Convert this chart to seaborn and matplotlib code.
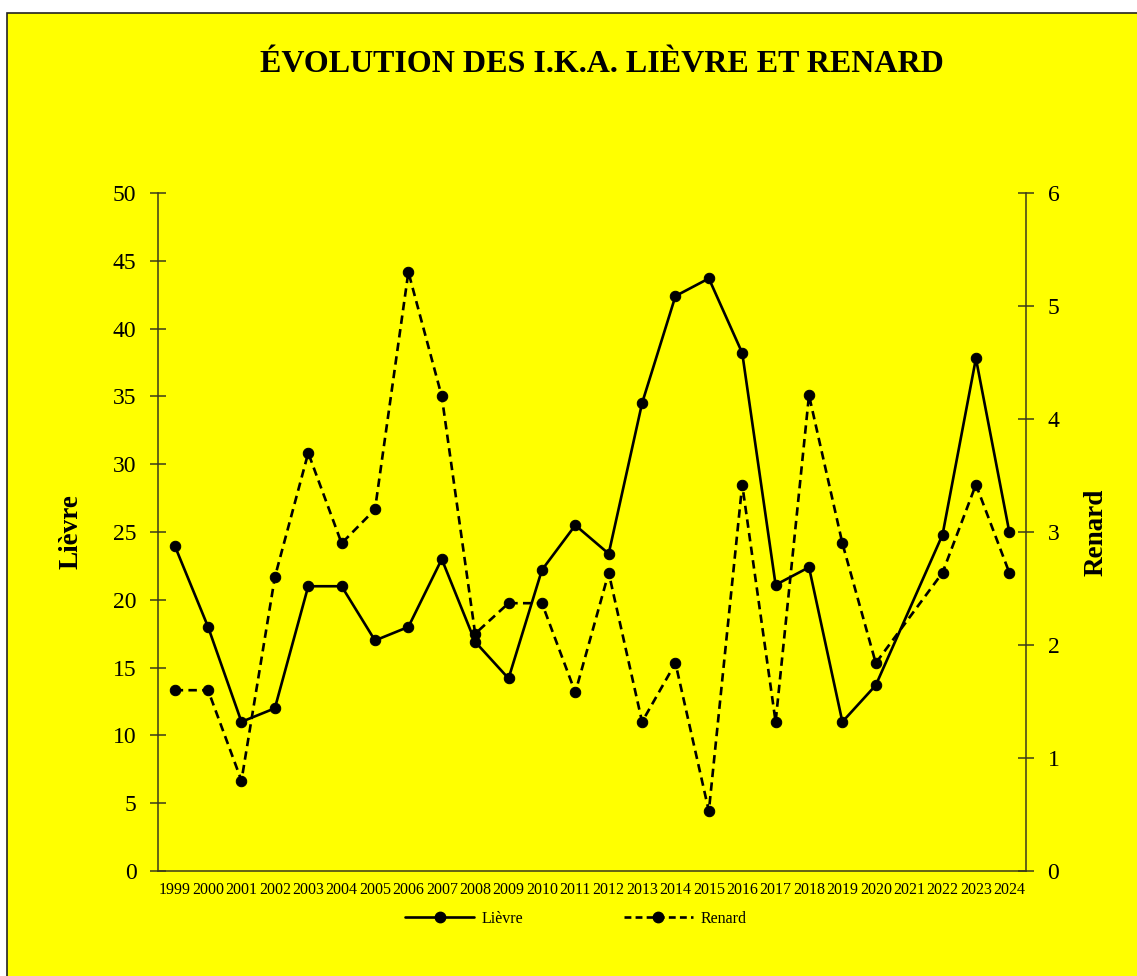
import numpy as np
import pandas as pd
import matplotlib
matplotlib.use("Agg")
import matplotlib.pyplot as plt
import seaborn as sns
from matplotlib.patches import Rectangle
from matplotlib.lines import Line2D

years = [str(y) for y in range(1999, 2025)]
lievre = [24.0, 18.0, 11.0, 12.0, 21.0, 21.0, 17.0, 18.0, 23.0, 16.9, 14.2, 22.2, 25.5,
          23.4, 34.5, 42.4, 43.7, 38.2, 21.1, 22.4, 11.0, 13.7, np.nan, 24.8, 37.8, 25.0]
renard = [1.60, 1.60, 0.80, 2.60, 3.70, 2.90, 3.20, 5.30, 4.20, 2.10, 2.37, 2.37, 1.58,
          2.64, 1.32, 1.84, 0.53, 3.42, 1.32, 4.21, 2.90, 1.84, np.nan, 2.64, 3.42, 2.64]
left_ticks = [0, 5, 10, 15, 20, 25, 30, 35, 40, 45, 50]
right_ticks = [0, 1, 2, 3, 4, 5, 6]
title = "ÉVOLUTION DES I.K.A. LIÈVRE ET RENARD"

sns.set_style("white")
plt.rcParams['font.family'] = ['Liberation Serif', 'DejaVu Serif']
plt.rcParams['text.color'] = 'black'
plt.rcParams['axes.labelcolor'] = 'black'
plt.rcParams['xtick.color'] = 'black'
plt.rcParams['ytick.color'] = 'black'

W, H = 1137, 976
fig = plt.figure(figsize=(W / 100, H / 100), dpi=100, facecolor="white")
bg = Rectangle((7 / W, -0.01), 1.02 - 7 / W, 1 - 13 / H + 0.01,
               transform=fig.transFigure, facecolor="#FFFF00",
               edgecolor="#222222", linewidth=1.2, zorder=-10)
fig.patches.append(bg)

ax = fig.add_axes([158 / W, 1 - 871 / H, (1026 - 158) / W, (871 - 193) / H])
ax.set_facecolor("none")
ax2 = ax.twinx()
ax2.set_facecolor("none")

df = pd.DataFrame({"idx": np.arange(len(years)), "Lièvre": lievre, "Renard": renard})
dl = df.dropna(subset=["Lièvre"])
dr = df.dropna(subset=["Renard"])

sns.lineplot(data=dl, x="idx", y="Lièvre", ax=ax, color="black", linewidth=1.9,
             marker="o", markersize=7.5, markeredgecolor="black", linestyle="-")
sns.lineplot(data=dr, x="idx", y="Renard", ax=ax2, color="black", linewidth=1.9,
             marker="o", markersize=7.5, markeredgecolor="black", linestyle=(0, (3.2, 2.0)))

axcol = "#3a3a1a"
for a in (ax, ax2):
    a.set_xlim(-0.5, len(years) - 0.5)
    for s in a.spines.values():
        s.set_visible(False)

ax.spines["left"].set_visible(True)
ax.spines["bottom"].set_visible(True)
ax2.spines["right"].set_visible(True)
for s in (ax.spines["left"], ax.spines["bottom"], ax2.spines["right"]):
    s.set_color(axcol)
    s.set_linewidth(1.1)

ax.set_ylim(0, 50)
ax2.set_ylim(0, 6)
ax.set_yticks(left_ticks)
ax.set_yticklabels([str(t) for t in left_ticks], fontsize=17)
ax2.set_yticks(right_ticks)
ax2.set_yticklabels([str(t) for t in right_ticks], fontsize=17)
ax.tick_params(axis="y", direction="inout", length=11, width=1.1, color=axcol, pad=10)
ax2.tick_params(axis="y", direction="inout", length=11, width=1.1, color=axcol, pad=10)

ax.set_xticks(np.arange(-0.5, len(years) + 0.5, 1.0))
ax.set_xticklabels([])
ax.set_xticks(np.arange(len(years)), minor=True)
ax.set_xticklabels(years, minor=True, fontsize=11.5)
ax.tick_params(axis="x", which="major", direction="inout", length=8, width=1.1, color=axcol)
ax.tick_params(axis="x", which="minor", length=0, pad=8)

ax.set_xlabel("")
ax.set_ylabel("Lièvre", fontsize=19.5, fontweight="bold", labelpad=0)
ax.yaxis.set_label_coords((83 - 158) / (1026 - 158), 0.5)
ax2.set_ylabel("Renard", fontsize=19.5, fontweight="bold", rotation=90)
ax2.yaxis.set_label_coords((1084 - 158) / (1026 - 158), 0.5)

fig.text(602 / W, 1 - 65 / H, title, ha="center", va="center",
         fontsize=23, fontweight="bold", color="black")

handles = [
    Line2D([], [], color="black", linewidth=1.9, marker="o", markersize=7.5),
    Line2D([], [], color="black", linewidth=1.9, marker="o", markersize=7.5,
           linestyle=(0, (2.6, 1.6))),
]
leg = fig.legend(handles, ["Lièvre", "Renard"], loc="center", ncol=2,
                 bbox_to_anchor=(576 / W, 1 - 919 / H), frameon=False,
                 fontsize=11.5, handlelength=4.3, columnspacing=6.3, handletextpad=0.5)

fig.savefig("out.png", dpi=100, facecolor="white")
